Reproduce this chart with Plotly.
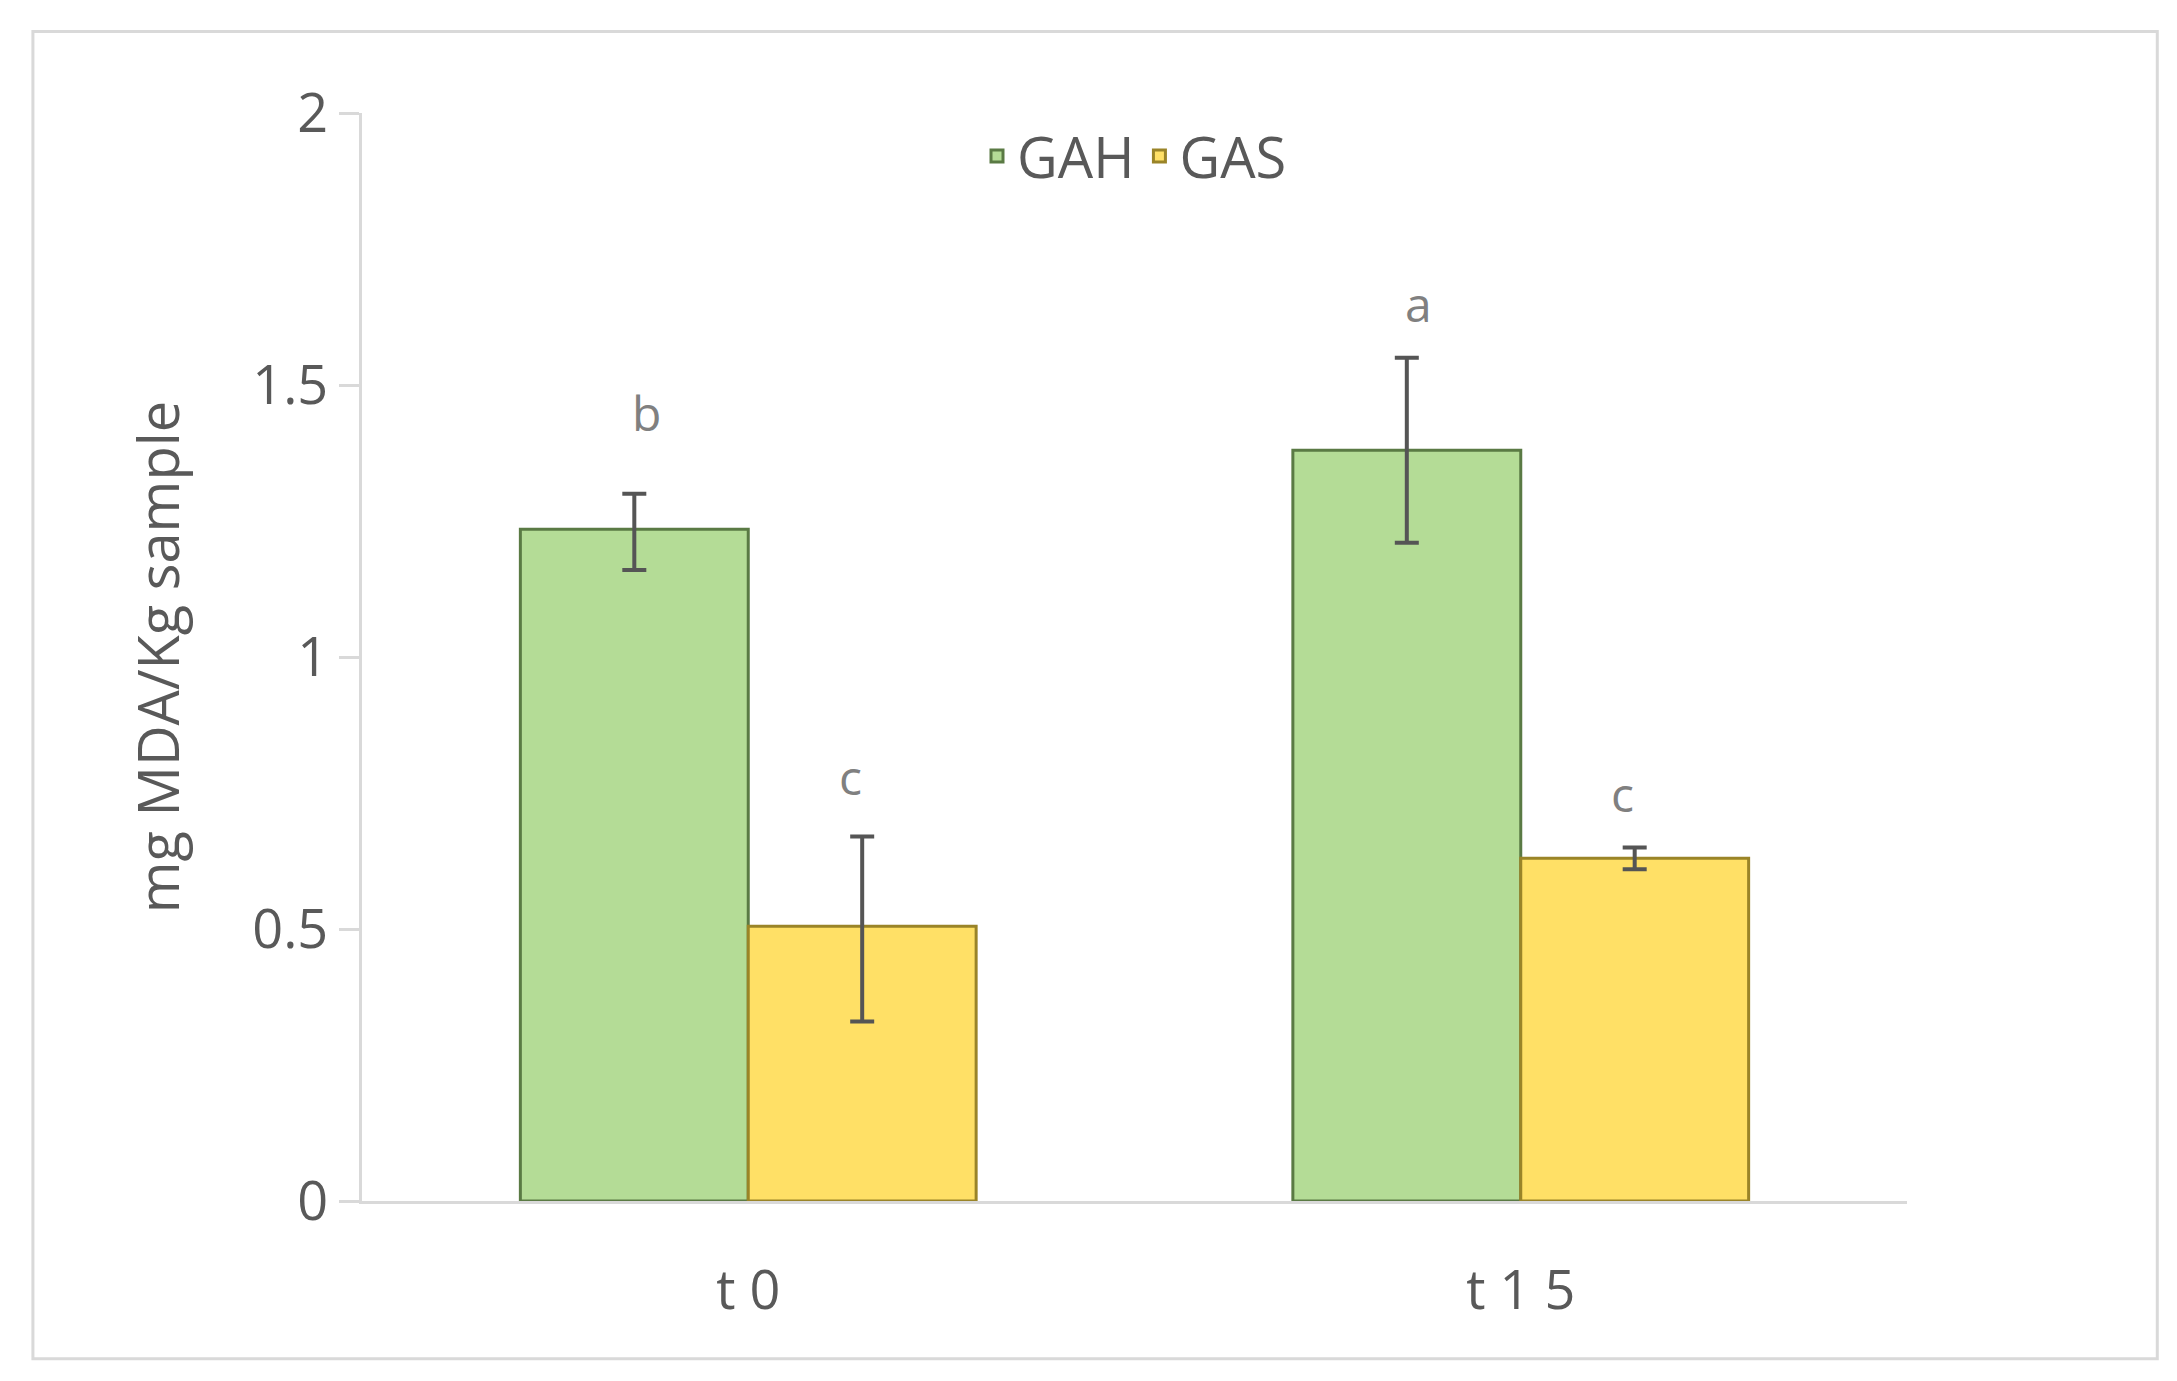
import plotly.graph_objects as go

categories = ["t 0", "t 1 5"]
gah = [1.235, 1.38]
gas = [0.505, 0.63]
gah_err_plus = [0.065, 0.17]
gah_err_minus = [0.075, 0.17]
gas_err_plus = [0.165, 0.02]
gas_err_minus = [0.175, 0.02]
gah_letters = ["b", "a"]
gas_letters = ["c", "c"]
gah_letter_y = [1.45, 1.65]
gas_letter_y = [0.78, 0.75]

fig = go.Figure()
err_style = dict(type="data", symmetric=False, color="#555555", thickness=4, width=12)
fig.add_bar(name="GAH", x=categories, y=gah,
            marker=dict(color="#b4dc96", line=dict(color="#5a7a44", width=3)),
            error_y=dict(array=gah_err_plus, arrayminus=gah_err_minus, **err_style))
fig.add_bar(name="GAS", x=categories, y=gas,
            marker=dict(color="#ffe066", line=dict(color="#9a8428", width=3)),
            error_y=dict(array=gas_err_plus, arrayminus=gas_err_minus, **err_style))

for i, c in enumerate(categories):
    fig.add_annotation(x=c, y=gah_letter_y[i], text=gah_letters[i], showarrow=False,
                       xshift=-102, font=dict(size=48, color="#808080"))
    fig.add_annotation(x=c, y=gas_letter_y[i], text=gas_letters[i], showarrow=False,
                       xshift=102, font=dict(size=48, color="#808080"))

fig.update_layout(
    width=2177, height=1381,
    paper_bgcolor="white", plot_bgcolor="white",
    font=dict(family="Open Sans, Liberation Sans, sans-serif", color="#595959"),
    margin=dict(l=354, r=278, t=105, b=188),
    barmode="group", bargap=0.41, bargroupgap=0,
    legend=dict(orientation="h", x=0.5, xanchor="center", y=1.0, yanchor="top",
                font=dict(size=56), bgcolor="rgba(0,0,0,0)"),
    yaxis=dict(range=[0, 2], tickvals=[0, 0.5, 1, 1.5, 2], ticktext=["0", "0.5", "1", "1.5", "2"],
               showgrid=False, showline=True, linecolor="#d9d9d9", linewidth=3,
               ticks="outside", ticklen=20, tickcolor="#d9d9d9", tickwidth=3,
               tickfont=dict(size=54), zeroline=False,
               title=dict(text="mg MDA/Kg sample", font=dict(size=56), standoff=55)),
    xaxis=dict(showline=True, linecolor="#d9d9d9", linewidth=3, tickfont=dict(size=54),
               ticklabelstandoff=40),
    shapes=[dict(type="rect", xref="paper", yref="paper", x0=-0.213, x1=1.162, y0=-0.145, y1=1.075,
                 line=dict(color="#d9d9d9", width=3))],
)
fig.write_html("out.html")
